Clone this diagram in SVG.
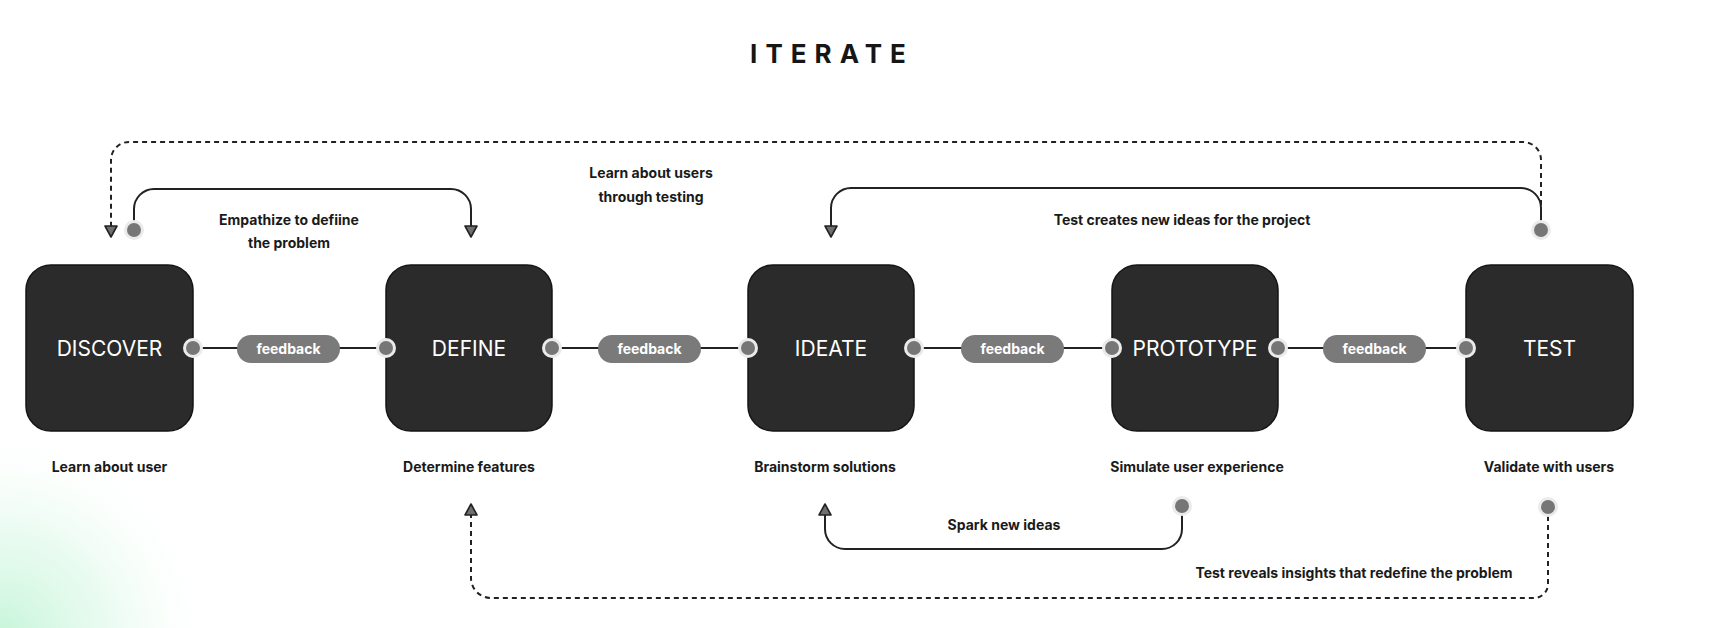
<svg xmlns="http://www.w3.org/2000/svg" width="1718" height="628" viewBox="0 0 1718 628">
<defs>
<style>
.box{fill:#2b2b2b;stroke:#151515;stroke-width:1.5}
.bl{font-family:Inter,"Liberation Sans",sans-serif;font-size:21px;font-weight:400;fill:#ffffff;text-anchor:middle}
.lbl{font-family:Inter,"Liberation Sans",sans-serif;font-size:14px;font-weight:700;fill:#1a1a1a;text-anchor:middle}
.title{font-family:Inter,"Liberation Sans",sans-serif;font-size:26px;font-weight:700;fill:#161616;text-anchor:middle;letter-spacing:8px}
.pill{fill:#7a7a7a}
.pt{font-family:Inter,"Liberation Sans",sans-serif;font-size:14px;font-weight:700;fill:#ffffff;text-anchor:middle}
.ln{stroke:#222;stroke-width:2;fill:none}
.dash{stroke:#222;stroke-width:2;fill:none;stroke-dasharray:5 4}
.port{fill:#767676}
.halo{fill:#ebebeb}
</style>
<radialGradient id="glow" cx="0" cy="640" r="220" gradientUnits="userSpaceOnUse">
<stop offset="0" stop-color="#c2f4d6" stop-opacity="0.95"/>
<stop offset="0.5" stop-color="#dcf9e8" stop-opacity="0.6"/>
<stop offset="1" stop-color="#ffffff" stop-opacity="0"/>
</radialGradient>
<marker id="arr" viewBox="-2 -2 16 16" refX="0" refY="6" markerWidth="16" markerHeight="16" markerUnits="userSpaceOnUse" orient="auto">
<path d="M0,0 L11,6 L0,12 Z" fill="#6f6f6f" stroke="#222" stroke-width="1.6" stroke-linejoin="round"/>
</marker>
</defs>
<rect x="0" y="0" width="1718" height="628" fill="#ffffff"/>
<rect x="0" y="380" width="300" height="248" fill="url(#glow)"/>

<text class="title" x="832" y="63">ITERATE</text>

<g id="connectors">
<path class="ln" d="M193,348 H386"/>
<path class="ln" d="M552,348 H748"/>
<path class="ln" d="M914,348 H1112"/>
<path class="ln" d="M1278,348 H1466"/>
<path class="dash" d="M1541,205 V160 A18,18 0 0 0 1523,142 H129 A18,18 0 0 0 111,160 V226" marker-end="url(#arr)"/>
<path class="ln" d="M134,230 V209 A20,20 0 0 1 154,189 H451 A20,20 0 0 1 471,209 V226" marker-end="url(#arr)"/>
<path class="ln" d="M1541,230 V208 A20,20 0 0 0 1521,188 H851 A20,20 0 0 0 831,208 V226" marker-end="url(#arr)"/>
<path class="ln" d="M1182,506 V529 A20,20 0 0 1 1162,549 H845 A20,20 0 0 1 825,529 V515" marker-end="url(#arr)"/>
<path class="dash" d="M1548,507 V584 A14,14 0 0 1 1534,598 H491 A20,20 0 0 1 471,578 V515" marker-end="url(#arr)"/>
<g id="pills">
<rect class="pill" x="237" y="335" width="103" height="28" rx="14"/>
<text class="pt" x="288.5" y="354">feedback</text>
<rect class="pill" x="598" y="335" width="103" height="28" rx="14"/>
<text class="pt" x="649.5" y="354">feedback</text>
<rect class="pill" x="961" y="335" width="103" height="28" rx="14"/>
<text class="pt" x="1012.5" y="354">feedback</text>
<rect class="pill" x="1323" y="335" width="103" height="28" rx="14"/>
<text class="pt" x="1374.5" y="354">feedback</text>
</g>
<g id="edge-labels">
<text class="lbl" x="289" y="225">Empathize to defiine</text>
<text class="lbl" x="289" y="248">the problem</text>
<text class="lbl" x="651" y="178">Learn about users</text>
<text class="lbl" x="651" y="202">through testing</text>
<text class="lbl" x="1182" y="225">Test creates new ideas for the project</text>
<text class="lbl" x="1004" y="530">Spark new ideas</text>
<text class="lbl" x="1354" y="578">Test reveals insights that redefine the problem</text>
</g>
</g>

<g id="node-discover">
<rect class="box" x="26" y="265" width="167" height="166" rx="25"/>
<text class="bl" x="109.5" y="356">DISCOVER</text>
<text class="lbl" x="109.5" y="472">Learn about user</text>
<circle class="halo" cx="193" cy="348" r="10"/><circle class="port" cx="193" cy="348" r="7"/>
<circle class="halo" cx="134" cy="230" r="10"/><circle class="port" cx="134" cy="230" r="7"/>
</g>
<g id="node-define">
<rect class="box" x="386" y="265" width="166" height="166" rx="25"/>
<text class="bl" x="469" y="356">DEFINE</text>
<text class="lbl" x="469" y="472">Determine features</text>
<circle class="halo" cx="386" cy="348" r="10"/><circle class="port" cx="386" cy="348" r="7"/>
<circle class="halo" cx="552" cy="348" r="10"/><circle class="port" cx="552" cy="348" r="7"/>
</g>
<g id="node-ideate">
<rect class="box" x="748" y="265" width="166" height="166" rx="25"/>
<text class="bl" x="831" y="356">IDEATE</text>
<text class="lbl" x="825" y="472">Brainstorm solutions</text>
<circle class="halo" cx="748" cy="348" r="10"/><circle class="port" cx="748" cy="348" r="7"/>
<circle class="halo" cx="914" cy="348" r="10"/><circle class="port" cx="914" cy="348" r="7"/>
</g>
<g id="node-prototype">
<rect class="box" x="1112" y="265" width="166" height="166" rx="25"/>
<text class="bl" x="1195" y="356">PROTOTYPE</text>
<text class="lbl" x="1197" y="472">Simulate user experience</text>
<circle class="halo" cx="1112" cy="348" r="10"/><circle class="port" cx="1112" cy="348" r="7"/>
<circle class="halo" cx="1278" cy="348" r="10"/><circle class="port" cx="1278" cy="348" r="7"/>
<circle class="halo" cx="1182" cy="506" r="10"/><circle class="port" cx="1182" cy="506" r="7"/>
</g>
<g id="node-test">
<rect class="box" x="1466" y="265" width="167" height="166" rx="25"/>
<text class="bl" x="1549.5" y="356">TEST</text>
<text class="lbl" x="1549" y="472">Validate with users</text>
<circle class="halo" cx="1466" cy="348" r="10"/><circle class="port" cx="1466" cy="348" r="7"/>
<circle class="halo" cx="1541" cy="230" r="10"/><circle class="port" cx="1541" cy="230" r="7"/>
<circle class="halo" cx="1548" cy="507" r="10"/><circle class="port" cx="1548" cy="507" r="7"/>
</g>
</svg>
